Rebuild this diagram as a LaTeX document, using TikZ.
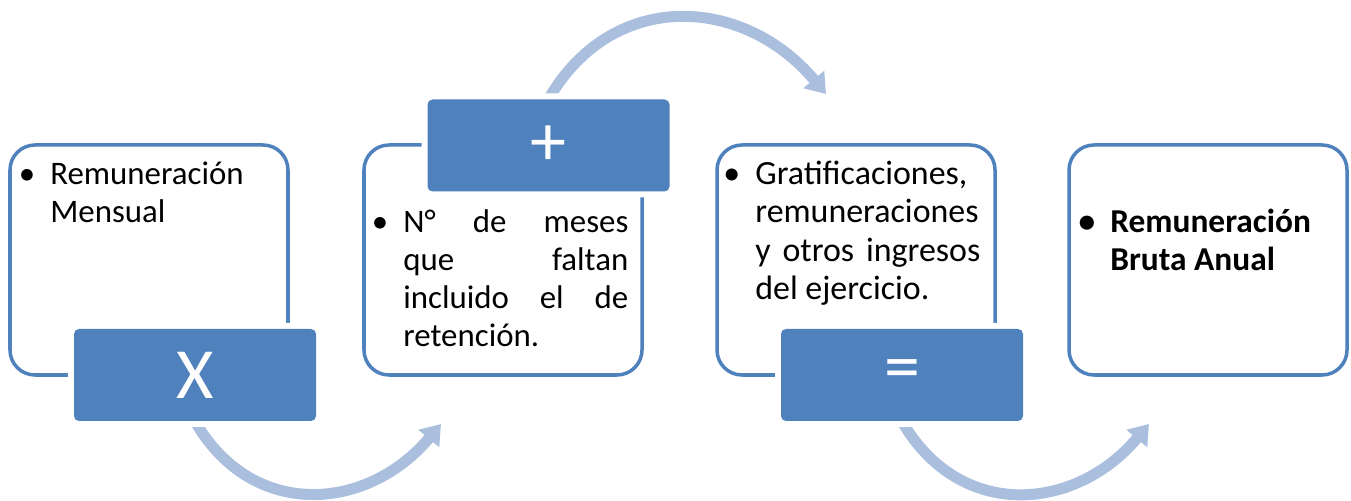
\documentclass[tikz,border=0pt]{standalone}
\usepackage{fontspec}
\setmainfont{Carlito}
\usepackage{xcolor}
\usepackage{tikz}
\usetikzlibrary{arrows.meta, backgrounds}
\definecolor{primary}{RGB}{79, 129, 189}
\definecolor{flowblue}{RGB}{170, 190, 222}
\tikzstyle{panel} = [rectangle, rounded corners=0.5cm, minimum width=5.56cm, minimum height=4.6cm, draw=primary, line width=2pt, fill=white]
\tikzstyle{operator} = [rectangle, rounded corners=0.1cm, minimum width=4.84cm, minimum height=1.84cm, fill=primary, text=white, font=\fontsize{41}{48}\selectfont, preaction={draw=white, line width=0.24cm}]
\tikzstyle{bullets} = [anchor=base west, inner sep=0pt, text width=4.5cm, align=flush left, font=\fontsize{18.7}{21.6}\selectfont]
\tikzstyle{flow} = [draw=flowblue, line width=0.22cm, -{Triangle[width=0.52cm, length=0.38cm]}]
\newcommand{\bul}{\llap{•\hspace{0.3cm}}}

\begin{document}
\begin{tikzpicture}
    \useasboundingbox (0,0) rectangle (27.02,10.02);

    \node[panel] (monthly) at (2.98, 4.82) {};
    \node[panel] (months) at (10.06, 4.82) {};
    \node[panel] (bonus) at (17.12, 4.82) {};
    \node[panel] (gross) at (24.16, 4.82) {};

    \node[bullets] (monthlytxt) at (1.0, 6.33) {\bul Remuneración\\Mensual};
    \node[bullets] (monthstxt) at (8.06, 5.36) {\bul N°\hfill de\hfill meses\\que\hfill faltan\\incluido\hfill el\hfill de\\retención.};
    \node[bullets, font=\fontsize{19.3}{21.8}\selectfont] (bonustxt) at (15.10, 6.33) {\bul Gratificaciones,\\remuneraciones\\y\hfill otros\hfill ingresos\\del ejercicio.};
    \node[bullets, font=\fontsize{19}{21.6}\selectfont\bfseries] (grosstxt) at (22.20, 5.36) {\bul Remuneración\\Bruta Anual};

    \node[operator] (times) at (3.90, 2.52) {X};
    \node[operator] (plus) at (10.97, 7.11) {+};
    \node[operator] (equals) at (18.04, 2.52) {=};

    \coordinate (in1) at (8.82, 1.54);
    \coordinate (in2) at (16.52, 8.14);
    \coordinate (in3) at (22.98, 1.54);

    \begin{pgfonlayer}{background}
        \draw[flow] (times.south) to[out=-60, in=-130, looseness=1.19] (in1);
        \draw[flow] (plus.north) to[out=60, in=130, looseness=1.18] (in2);
        \draw[flow] (equals.south) to[out=-60, in=-130, looseness=1.19] (in3);
    \end{pgfonlayer}
\end{tikzpicture}
\end{document}
